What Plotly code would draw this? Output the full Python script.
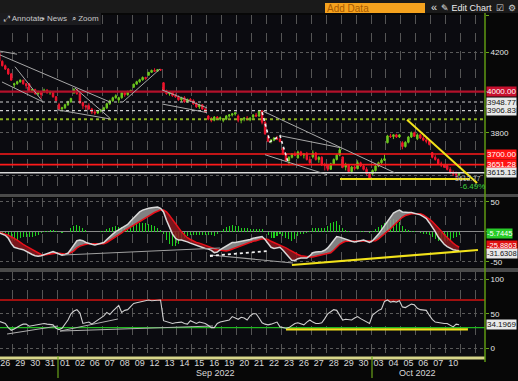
import math
import numpy as np
import plotly.graph_objects as go

W, H = 518, 381
PLOT_R = 485            # right edge of plotting area (px)
PX_PER_DAY = 14.93
X_ORIGIN_PX = -2.2

# ---------------- data ----------------
day_labels = ["26", "29", "30", "31", "01", "02", "06", "07", "08", "09", "12", "13", "14", "15", "16",
              "19", "20", "21", "22", "23", "26", "27", "28", "29", "30", "03", "04", "05", "06", "07", "10"]
month_labels = ["Sep 2022", "Oct 2022"]

opens = [
    4199, 4155, 4132, 4115, 4090,
    4034, 4040, 4050, 4058, 4040,
    4040, 4005, 4010, 3990, 4000,
    4000, 4008, 3995, 3998, 3975,
    3936, 3915, 3920, 3935, 3950,
    3994, 4010, 3990, 3945, 3930,
    3930, 3915, 3900, 3895, 3905,
    3909, 3920, 3940, 3955, 3970,
    3959, 3970, 3995, 3985, 4000,
    4022, 4038, 4050, 4060, 4072,
    4083, 4098, 4108, 4104, 4112,
    4045, 4005, 3990, 3998, 3980,
    3975, 3960, 3970, 3950, 3962,
    3955, 3940, 3925, 3935, 3915,
    3880, 3865, 3860, 3875, 3865,
    3860, 3865, 3880, 3885, 3890,
    3880, 3860, 3865, 3870, 3862,
    3875, 3885, 3880, 3905, 3850,
    3780, 3760, 3765, 3775, 3770,
    3727, 3700, 3670, 3685, 3700,
    3682, 3710, 3695, 3700, 3675,
    3687, 3705, 3675, 3685, 3650,
    3651, 3630, 3655, 3675, 3695,
    3687, 3640, 3650, 3620, 3640,
    3633, 3660, 3645, 3630, 3610,
    3609, 3625, 3645, 3660, 3672,
    3753, 3785, 3782, 3790, 3780,
    3753, 3735, 3755, 3780, 3800,
    3771, 3790, 3775, 3765, 3760,
    3707, 3685, 3675, 3655, 3650,
    3647, 3630, 3615, 3610, 3605,
]
highs = [
    4203, 4160, 4138, 4120, 4095,
    4045, 4055, 4062, 4060, 4045,
    4044, 4015, 4015, 4005, 4003,
    4015, 4012, 4005, 4000, 3978,
    3945, 3925, 3940, 3955, 3970,
    4018, 4015, 3992, 3950, 3935,
    3942, 3920, 3912, 3910, 3915,
    3925, 3945, 3960, 3975, 3987,
    3975, 3998, 4002, 4005, 4010,
    4040, 4055, 4065, 4077, 4075,
    4100, 4112, 4119, 4114, 4116,
    4048, 4010, 4002, 4000, 3990,
    3982, 3975, 3978, 3965, 3968,
    3962, 3948, 3940, 3938, 3918,
    3885, 3875, 3880, 3880, 3878,
    3870, 3885, 3890, 3895, 3900,
    3888, 3870, 3875, 3880, 3875,
    3890, 3895, 3907, 3908, 3855,
    3790, 3770, 3780, 3785, 3775,
    3730, 3705, 3690, 3705, 3712,
    3716, 3715, 3705, 3710, 3690,
    3717, 3710, 3690, 3690, 3660,
    3655, 3660, 3680, 3700, 3733,
    3688, 3660, 3655, 3645, 3648,
    3671, 3665, 3650, 3640, 3615,
    3630, 3650, 3665, 3680, 3698,
    3790, 3795, 3792, 3795, 3792,
    3760, 3760, 3785, 3806, 3805,
    3797, 3795, 3785, 3775, 3765,
    3710, 3695, 3680, 3665, 3655,
    3652, 3640, 3625, 3620, 3618,
]
lows = [
    4150, 4128, 4110, 4085, 4057,
    4020, 4035, 4045, 4035, 4015,
    4000, 3995, 3985, 3980, 3965,
    3995, 3990, 3985, 3970, 3954,
    3910, 3903, 3915, 3930, 3945,
    3990, 3985, 3940, 3915, 3906,
    3910, 3890, 3886, 3890, 3898,
    3906, 3915, 3935, 3950, 3965,
    3944, 3965, 3975, 3980, 3995,
    4022, 4035, 4045, 4055, 4060,
    4083, 4095, 4100, 4100, 4105,
    4000, 3985, 3980, 3975, 3970,
    3955, 3950, 3945, 3945, 3950,
    3935, 3920, 3915, 3910, 3895,
    3860, 3850, 3855, 3860, 3858,
    3850, 3860, 3872, 3878, 3882,
    3850, 3845, 3855, 3860, 3855,
    3865, 3875, 3875, 3840, 3790,
    3755, 3750, 3760, 3765, 3755,
    3695, 3665, 3648, 3680, 3690,
    3680, 3690, 3680, 3670, 3655,
    3680, 3670, 3660, 3645, 3625,
    3623, 3628, 3650, 3670, 3690,
    3635, 3625, 3615, 3612, 3625,
    3630, 3640, 3625, 3605, 3584,
    3605, 3620, 3640, 3655, 3668,
    3750, 3775, 3770, 3775, 3775,
    3722, 3730, 3750, 3775, 3780,
    3765, 3770, 3760, 3750, 3740,
    3680, 3670, 3650, 3640, 3636,
    3625, 3610, 3600, 3591, 3600,
]
closes = [
    4155, 4132, 4115, 4090, 4058,
    4040, 4050, 4058, 4040, 4030,
    4005, 4010, 3990, 4000, 3986,
    4008, 3995, 3998, 3975, 3955,
    3915, 3920, 3935, 3950, 3966,
    4010, 3990, 3945, 3930, 3924,
    3915, 3900, 3895, 3905, 3908,
    3920, 3940, 3955, 3970, 3980,
    3970, 3995, 3985, 4000, 4006,
    4038, 4050, 4060, 4072, 4067,
    4098, 4108, 4104, 4112, 4110,
    4005, 3990, 3998, 3980, 3975,
    3960, 3970, 3950, 3962, 3955,
    3940, 3925, 3935, 3915, 3900,
    3865, 3860, 3875, 3865, 3872,
    3865, 3880, 3885, 3890, 3895,
    3860, 3865, 3870, 3862, 3870,
    3885, 3880, 3905, 3850, 3795,
    3760, 3765, 3775, 3770, 3758,
    3700, 3670, 3685, 3700, 3695,
    3710, 3695, 3700, 3675, 3660,
    3705, 3675, 3685, 3650, 3647,
    3630, 3655, 3675, 3695, 3720,
    3640, 3650, 3620, 3640, 3635,
    3660, 3645, 3630, 3610, 3590,
    3625, 3645, 3660, 3672, 3678,
    3785, 3782, 3790, 3780, 3790,
    3735, 3755, 3780, 3800, 3783,
    3790, 3775, 3765, 3760, 3745,
    3685, 3675, 3655, 3650, 3640,
    3630, 3615, 3610, 3605, 3612,
]
macd_line = [
    -2, -4, -6, -11, -20,
    -26, -28, -29, -30, -33,
    -36, -38, -40, -41, -40,
    -38, -36, -34, -33, -35,
    -37, -39, -38, -36, -29,
    -22, -15, -14, -15, -18,
    -20, -21, -22, -21, -20,
    -18, -13, -8, -4, 0,
    3, 6, 9, 12, 18,
    23, 28, 33, 36, 38,
    39, 40, 41, 41, 39,
    33, 19, 7, -4, -11,
    -14, -14, -15, -17, -19,
    -21, -23, -25, -26, -28,
    -29, -31, -35, -34, -30,
    -27, -24, -21, -18, -18,
    -17, -17, -16, -14, -13,
    -11, -10, -9, -8, -13,
    -19, -26, -28, -27, -26,
    -31, -37, -42, -48, -48,
    -45, -44, -44, -44, -40,
    -35, -34, -34, -33, -31,
    -27, -21, -14, -8, -9,
    -11, -13, -15, -16, -17,
    -16, -15, -14, -16, -18,
    -15, -10, -4, 3, 10,
    18, 25, 31, 34, 36,
    33, 32, 32, 32, 31,
    30, 28, 25, 22, 15,
    8, 0, -9, -16, -21,
    -25, -28, -30, -31, -31.6308,
]
signal_line = [
    -1, -2, -4, -6, -8,
    -11, -14, -18, -21, -24,
    -27, -30, -33, -36, -38,
    -39, -38, -37, -36, -36,
    -36, -37, -37, -36, -35,
    -32, -27, -24, -22, -21,
    -20, -20, -21, -21, -21,
    -20, -18, -15, -12, -9,
    -5, -2, 2, 5, 8,
    11, 15, 18, 21, 24,
    26, 29, 32, 34, 36,
    36, 33, 27, 20, 13,
    6, 0, -5, -10, -13,
    -16, -18, -19, -21, -22,
    -24, -26, -28, -30, -31,
    -32, -32, -31, -29, -27,
    -26, -24, -22, -20, -18,
    -16, -15, -13, -12, -12,
    -13, -16, -18, -20, -22,
    -24, -27, -30, -33, -36,
    -38, -40, -41, -42, -42,
    -42, -41, -40, -39, -38,
    -37, -35, -31, -26, -21,
    -18, -16, -16, -16, -16,
    -16, -16, -16, -16, -16,
    -16, -15, -12, -8, -4,
    0, 5, 10, 15, 20,
    24, 27, 29, 30, 30,
    30, 30, 28, 25, 21,
    17, 12, 6, 1, -5,
    -10, -15, -19, -23, -25.8863,
]
rsi_line = [
    39, 37, 36, 30, 26,
    28, 31, 33, 35, 35,
    32, 33, 34, 34, 35,
    36, 35, 35, 34, 29,
    27, 29, 35, 41, 50,
    54, 56, 51, 36, 37,
    38, 35, 38, 42, 44,
    47, 52, 49, 54, 58,
    62, 52, 55, 56, 60,
    65, 66, 67, 69, 70,
    70, 69, 69, 70, 70,
    40, 39, 37, 36, 37,
    38, 38, 36, 35, 40,
    38, 36, 38, 37, 36,
    33, 30, 30, 36, 38,
    39, 40, 41, 46, 44,
    42, 45, 44, 41, 47,
    50, 50, 44, 37, 35,
    34, 35, 37, 38, 31,
    30, 29, 30, 33, 36,
    37, 35, 34, 38, 41,
    38, 36, 36, 37, 43,
    50, 53, 56, 55, 48,
    41, 42, 42, 41, 44,
    46, 43, 41, 38, 36,
    48, 52, 55, 57, 68,
    70, 67, 68, 67, 69,
    60, 59, 62, 64, 63,
    58, 56, 55, 55, 48,
    42, 38, 37, 36, 36,
    36, 33, 31, 35, 34.1969,
]

# horizontal levels drawn on the price panel
level_values = [4000.00, 3948.77, 3906.83, 3865.0, 3700.00, 3651.28, 3615.13]
# trendline drawings (x in trading-day units, y in panel units)
price_grey_lines = [
    (0.15, 4188, 7.51, 3949), (0.15, 4208, 1.29, 4192), (1.15, 4127, 3.03, 3949),
    (0.28, 4049, 3.03, 3949), (4.03, 3910, 7.51, 3866), (5.17, 4018, 7.51, 3870),
    (8.38, 3949, 10.86, 4115), (11.0, 4009, 14.01, 3920), (11.0, 3939, 14.01, 3897),
    (17.76, 3904, 26.6, 3614), (18.9, 3786, 22.92, 3730), (17.9, 3697, 22.05, 3606),
]
price_wave_x = [17.7, 18.23, 18.9, 19.44]
price_wave_y = [3899, 3757, 3786, 3663]
price_yellow_lines = [(22.92, 3586, 31.63, 3586), (27.41, 3862, 32.1, 3569)]
macd_grey_lines = [(4.37, -38.8, 14.88, -27.2), (14.21, -38.8, 19.77, -52.2)]
macd_dotted_lines = [(14.21, -40.5, 18.03, -32.2)]
macd_yellow_lines = [(19.7, -55.5, 32.16, -30.5)]
rsi_grey_lines = [(0.62, 20.7, 4.03, 32.3), (4.17, 25, 8.05, 42.5), (4.17, 25, 14.41, 32.3)]
rsi_yellow_lines = [(19.3, 27.5, 31.49, 27.5)]
last_price_text = "3612.77"
change_text = "-6.49%"

# ---------------- layout helpers ----------------
FONT = "Liberation Sans, Arial, sans-serif"
BG = "#0b0b10"


def px_to_x(px):
    return (px - X_ORIGIN_PX) / PX_PER_DAY


def py_paper(py):
    return 1 - py / H


def px_paper(px):
    return px / PLOT_R


def price_at_py(py):
    return 4000 * math.exp((91.7 - py) / 800.0)


PRICE_TOP, PRICE_BOT = 15, 194
MACD_TOP, MACD_BOT = 198, 267
RSI_TOP, RSI_BOT = 272, 356
price_dom = [py_paper(PRICE_BOT), py_paper(PRICE_TOP)]
macd_dom = [py_paper(MACD_BOT), py_paper(MACD_TOP)]
rsi_dom = [py_paper(RSI_BOT), py_paper(RSI_TOP)]
price_rng = [math.log10(price_at_py(PRICE_BOT)), math.log10(price_at_py(PRICE_TOP))]
macd_rng = [(231.7 - MACD_BOT) / 0.6, (231.7 - MACD_TOP) / 0.6]
rsi_rng = [(348.3 - RSI_BOT) / 0.69, (348.3 - RSI_TOP) / 0.69]
x_rng = [px_to_x(0), px_to_x(PLOT_R)]


def price_paper(p):
    f = (math.log10(p) - price_rng[0]) / (price_rng[1] - price_rng[0])
    return price_dom[0] + f * (price_dom[1] - price_dom[0])


def lin_paper(v, rng, dom):
    f = (v - rng[0]) / (rng[1] - rng[0])
    return dom[0] + f * (dom[1] - dom[0])


n_days = len(day_labels)
per_day = len(closes) // n_days
xs = [d + (k + 0.5) / per_day for d in range(n_days) for k in range(per_day)]

fig = go.Figure()

# ---- price panel ----
level_styles = [
    dict(color="#b3112a", width=2.2, dash="solid"),
    dict(color="#cfcfcf", width=1.2, dash="dot"),
    dict(color="#cfcfcf", width=1.2, dash="dot"),
    dict(color="#8fb320", width=2, dash="dot"),
    dict(color="#ff1a1a", width=1.6, dash="solid"),
    dict(color="#ff1a1a", width=1.6, dash="solid"),
    dict(color="#d8d8d8", width=1.5, dash="solid"),
]
for lv, st in zip(level_values, level_styles):
    fig.add_trace(go.Scatter(x=x_rng, y=[lv, lv], mode="lines", line=st, yaxis="y", hoverinfo="skip"))

fig.add_trace(go.Candlestick(
    x=xs, open=opens, high=highs, low=lows, close=closes, yaxis="y",
    increasing=dict(line=dict(color="#6cc81e", width=1), fillcolor="#6cc81e"),
    decreasing=dict(line=dict(color="#f0142d", width=1), fillcolor="#f0142d"),
    hoverinfo="skip",
))

for (x0, y0, x1, y1) in price_grey_lines:
    fig.add_trace(go.Scatter(x=[x0, x1], y=[y0, y1], mode="lines",
                             line=dict(color="#a8a8a8", width=1), yaxis="y", hoverinfo="skip"))
fig.add_trace(go.Scatter(x=price_wave_x, y=price_wave_y, mode="lines",
                         line=dict(color="#f0f0f0", width=1.6, dash="dot"), yaxis="y", hoverinfo="skip"))
for (x0, y0, x1, y1) in price_yellow_lines:
    fig.add_trace(go.Scatter(x=[x0, x1], y=[y0, y1], mode="lines",
                             line=dict(color="#f2e21a", width=2), yaxis="y", hoverinfo="skip"))

# ---- MACD panel ----
macd_a = np.array(macd_line, dtype=float)
sig_a = np.array(signal_line, dtype=float)
hist = macd_a - sig_a
fig.add_trace(go.Bar(x=xs, y=hist, width=0.07, marker=dict(color="#1fd21f", line=dict(width=0)),
                     yaxis="y2", hoverinfo="skip"))
fig.add_trace(go.Scatter(x=xs, y=sig_a, mode="lines", line=dict(width=0), yaxis="y2", hoverinfo="skip"))
fig.add_trace(go.Scatter(x=xs, y=np.maximum(macd_a, sig_a), mode="lines", line=dict(width=0),
                         fill="tonexty", fillcolor="rgba(150,150,150,0.85)", yaxis="y2", hoverinfo="skip"))
fig.add_trace(go.Scatter(x=xs, y=sig_a, mode="lines", line=dict(width=0), yaxis="y2", hoverinfo="skip"))
fig.add_trace(go.Scatter(x=xs, y=np.minimum(macd_a, sig_a), mode="lines", line=dict(width=0),
                         fill="tonexty", fillcolor="rgba(140,25,30,0.85)", yaxis="y2", hoverinfo="skip"))
fig.add_trace(go.Scatter(x=xs, y=sig_a, mode="lines", line=dict(color="#e8101a", width=1.5),
                         yaxis="y2", hoverinfo="skip"))
fig.add_trace(go.Scatter(x=xs, y=macd_a, mode="lines", line=dict(color="#d9d9d9", width=1.5),
                         yaxis="y2", hoverinfo="skip"))
for (x0, y0, x1, y1) in macd_grey_lines:
    fig.add_trace(go.Scatter(x=[x0, x1], y=[y0, y1], mode="lines",
                             line=dict(color="#a0a0a0", width=1.2), yaxis="y2", hoverinfo="skip"))
for (x0, y0, x1, y1) in macd_dotted_lines:
    fig.add_trace(go.Scatter(x=[x0, x1], y=[y0, y1], mode="lines",
                             line=dict(color="#f0f0f0", width=1.8, dash="dot"), yaxis="y2", hoverinfo="skip"))
for (x0, y0, x1, y1) in macd_yellow_lines:
    fig.add_trace(go.Scatter(x=[x0, x1], y=[y0, y1], mode="lines",
                             line=dict(color="#f2e21a", width=2.2), yaxis="y2", hoverinfo="skip"))

# ---- RSI panel ----
rsi_a = np.array(rsi_line, dtype=float)
fig.add_trace(go.Scatter(x=x_rng, y=[70, 70], mode="lines", line=dict(color="#a01010", width=2),
                         yaxis="y3", hoverinfo="skip"))
fig.add_trace(go.Scatter(x=xs, y=[30] * len(xs), mode="lines", line=dict(width=0), yaxis="y3", hoverinfo="skip"))
fig.add_trace(go.Scatter(x=xs, y=np.minimum(rsi_a, 30), mode="lines", line=dict(width=0),
                         fill="tonexty", fillcolor="rgba(40,170,40,0.9)", yaxis="y3", hoverinfo="skip"))
fig.add_trace(go.Scatter(x=x_rng, y=[30, 30], mode="lines", line=dict(color="#1fb81f", width=1.2),
                         yaxis="y3", hoverinfo="skip"))
for (x0, y0, x1, y1) in rsi_grey_lines:
    fig.add_trace(go.Scatter(x=[x0, x1], y=[y0, y1], mode="lines",
                             line=dict(color="#b0b0b0", width=1), yaxis="y3", hoverinfo="skip"))
for (x0, y0, x1, y1) in rsi_yellow_lines:
    fig.add_trace(go.Scatter(x=[x0, x1], y=[y0, y1], mode="lines",
                             line=dict(color="#f2e21a", width=2.2), yaxis="y3", hoverinfo="skip"))
fig.add_trace(go.Scatter(x=xs, y=rsi_a, mode="lines", line=dict(color="#cfcfcf", width=1.1),
                         yaxis="y3", hoverinfo="skip"))

# ---------------- axes ----------------
axis_common = dict(side="right", anchor="x", showline=False, zeroline=False,
                   ticks="outside", ticklen=3, tickcolor="#6aa31c", tickwidth=1,
                   tickfont=dict(family=FONT, size=8, color="#e6e6e6"),
                   gridcolor="#5a5a5a", griddash="dot", gridwidth=1, fixedrange=True)
fig.update_layout(
    width=W, height=H,
    margin=dict(l=0, r=W - PLOT_R, t=0, b=0),
    paper_bgcolor="#070707", plot_bgcolor=BG,
    showlegend=False, hovermode=False, bargap=0,
    xaxis=dict(range=x_rng, anchor="y3", showgrid=False, zeroline=False, showline=False,
               tickmode="array", tickvals=[d + 0.5 for d in range(n_days)], ticktext=day_labels,
               ticks="", tickfont=dict(family=FONT, size=9, color="#d8d8d8"),
               minor=dict(showgrid=True, dtick=1, tick0=0, gridcolor="#555555", griddash="dash", gridwidth=1),
               rangeslider=dict(visible=False), fixedrange=True),
    yaxis=dict(domain=price_dom, type="log", range=price_rng,
               tickmode="array", tickvals=[3600, 3800, 4000, 4200, 4400],
               ticktext=["", "3800", "", "4200", ""], showgrid=True, **axis_common),
    yaxis2=dict(domain=macd_dom, range=macd_rng, tickmode="array", tickvals=[-50, 0, 50],
                ticktext=["-50", "", "50"], showgrid=True, **{k: v for k, v in axis_common.items() if k != "zeroline"},
                zeroline=True, zerolinecolor="#8a8a8a", zerolinewidth=1),
    yaxis3=dict(domain=rsi_dom, range=rsi_rng, tickmode="array", tickvals=[0, 50, 100],
                ticktext=["0", "50", "100"], showgrid=True, **axis_common),
)

shapes = []
# header bar
shapes.append(dict(type="rect", xref="paper", yref="paper", x0=0, x1=px_paper(W), y0=py_paper(13), y1=1,
                   fillcolor="#1a1a1a", line=dict(width=0), layer="above"))
shapes.append(dict(type="rect", xref="paper", yref="paper", x0=px_paper(325), x1=px_paper(425),
                   y0=py_paper(13), y1=py_paper(3), fillcolor="#f5a21e", line=dict(width=0), layer="above"))
# toolbar
shapes.append(dict(type="rect", xref="paper", yref="paper", x0=0, x1=px_paper(101), y0=py_paper(25), y1=py_paper(13),
                   fillcolor="#1c1c1f", line=dict(width=0), layer="above"))
# panel separators
for a, b in [(194, 197), (268, 272)]:
    shapes.append(dict(type="rect", xref="paper", yref="paper", x0=0, x1=px_paper(W), y0=py_paper(b), y1=py_paper(a),
                       fillcolor="#4a4a4a", line=dict(width=0), layer="above"))
# bottom time bar
shapes.append(dict(type="rect", xref="paper", yref="paper", x0=0, x1=1, y0=py_paper(359.5), y1=py_paper(356.5),
                   fillcolor="#d6d48a", line=dict(width=0), layer="above"))
# right axis line
shapes.append(dict(type="line", xref="paper", yref="paper", x0=1, x1=1, y0=py_paper(362), y1=py_paper(13),
                   line=dict(color="#5f9a12", width=1.5), layer="above"))
# month boundary marks
for px in (58, 372):
    shapes.append(dict(type="line", xref="paper", yref="paper", x0=px_paper(px), x1=px_paper(px),
                       y0=py_paper(378), y1=py_paper(356), line=dict(color="#6aa31c", width=1.2), layer="above"))
fig.update_layout(shapes=shapes)

ann = []


def text_ann(txt, px, py, color="#d0d0d0", size=9, anchor="left", bg=None):
    d = dict(text=txt, xref="paper", yref="paper", x=px_paper(px), y=py_paper(py), xanchor=anchor,
             yanchor="middle", showarrow=False, font=dict(family=FONT, size=size, color=color))
    if bg:
        d["bgcolor"] = bg
    ann.append(d)


text_ann("Add Data", 325, 8, color="#a85a00", size=10)
text_ann("«", 429, 7, color="#e0e0e0", size=11)
text_ann("✎ Edit Chart", 439, 8, color="#ececec", size=9)
text_ann("☑", 494, 8, color="#d0d0d0", size=9)
text_ann("⚙", 506, 8, color="#d0d0d0", size=9)
text_ann("⤢ Annotate", 1, 19, color="#c8c8c8", size=8)
text_ann("▪ News", 40, 19, color="#c8c8c8", size=8)
text_ann("⌕ Zoom", 70, 19, color="#c8c8c8", size=8)
text_ann(month_labels[0], 215, 373, color="#d8d8d8", size=9, anchor="center")
text_ann(month_labels[1], 417, 373, color="#d8d8d8", size=9, anchor="center")
text_ann(last_price_text, 453, 178, color="#bcbcbc", size=7)
text_ann(change_text, 458, 186, color="#3cd23c", size=8)


def right_label(txt, ypaper, bg, fg, yshift=0, size=8):
    ann.append(dict(text=txt, xref="paper", yref="paper", x=1, xshift=1, y=ypaper, yshift=yshift,
                    xanchor="left", yanchor="middle", showarrow=False, bgcolor=bg, borderpad=0,
                    font=dict(family=FONT, size=size, color=fg)))


right_label("4000.00", price_paper(level_values[0]), "#c8102e", "#ffffff")
right_label("3948.77", price_paper(level_values[1]), "#e8e8e8", "#111111")
right_label("3906.83", price_paper(level_values[2]), "#e8e8e8", "#111111")
right_label("3700.00", price_paper(level_values[4]), "#ff1414", "#ffffff")
right_label("3651.28", price_paper(level_values[5]), "#ff1414", "#ffffff")
right_label("3615.13", price_paper(level_values[6]), "#e8e8e8", "#111111")
right_label("%.4f" % hist[-1], lin_paper(hist[-1], macd_rng, macd_dom), "#29cc29", "#ffffff", yshift=2, size=7.5)
right_label("%.4f" % signal_line[-1], lin_paper(signal_line[-1], macd_rng, macd_dom), "#e01010", "#ffffff",
            yshift=2, size=7.5)
right_label("%.4f" % macd_line[-1], lin_paper(macd_line[-1], macd_rng, macd_dom), "#e8e8e8", "#111111",
            yshift=-3, size=7.5)
right_label("%.4f" % rsi_line[-1], lin_paper(rsi_line[-1], rsi_rng, rsi_dom), "#e8e8e8", "#111111")
fig.update_layout(annotations=ann)

fig.write_html("out.html", config={"displayModeBar": False, "staticPlot": True},
               post_script="document.body.style.margin='0px';document.body.style.overflow='hidden';")
